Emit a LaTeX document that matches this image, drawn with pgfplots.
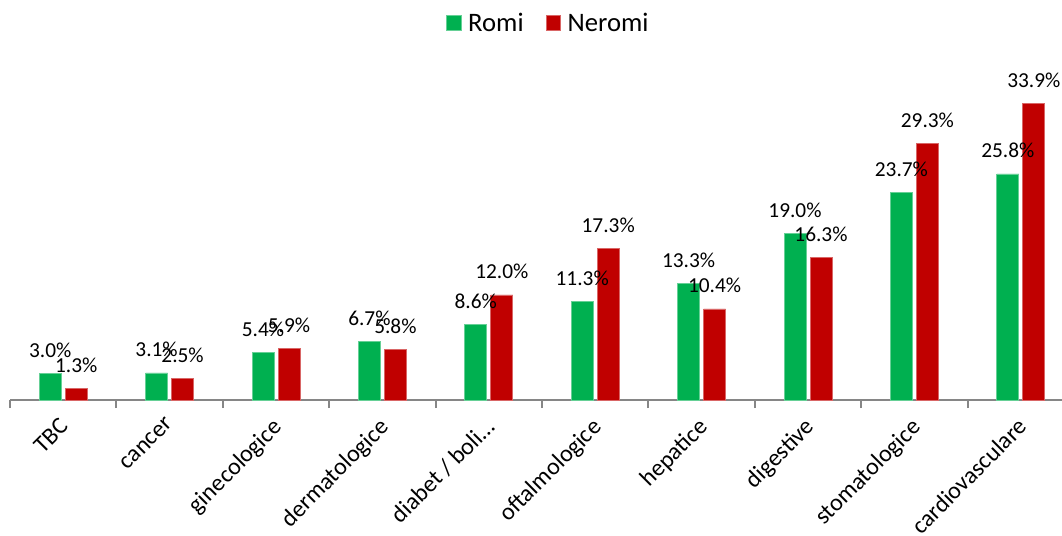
\documentclass[border=0pt]{standalone}
\usepackage{pgfplots}
\pgfplotsset{compat=1.18}
\usepackage{fontspec}
\setmainfont{Carlito}
\definecolor{romi}{HTML}{00B050}
\definecolor{neromi}{HTML}{C00000}
\definecolor{axgray}{HTML}{868686}
\begin{document}
\begin{tikzpicture}
\begin{axis}[
    name=ax,
    scale only axis,
    width=798pt, height=255pt,
    ybar=3pt, bar width=16.5pt,
    xmin=-0.5, xmax=9.5,
    ymin=0, ymax=38.81,
    axis lines*=left,
    y axis line style={draw=none},
    x axis line style={axgray, line width=1.5pt},
    ytick=\empty,
    xtick={0,...,9},
    xticklabels={TBC, cancer, ginecologice, dermatologice, diabet / boli…, oftalmologice, hepatice, digestive, stomatologice, cardiovasculare},
    major x tick style={draw=none},
    minor xtick={-0.5,0.5,...,9.5},
    minor x tick style={axgray, line width=1.5pt},
    minor tick length=6pt,
    tick align=outside,
    xticklabel style={xshift=-3.3pt, yshift=-8pt, rotate=45, anchor=north east, font=\fontsize{18pt}{21pt}\selectfont, inner sep=0pt},
    /pgf/number format/assume math mode=true,
    nodes near coords={\pgfmathprintnumber[fixed, fixed zerofill, precision=1]{\pgfplotspointmeta}\%},
    every node near coord/.append style={anchor=base, yshift=12pt, font=\fontsize{16pt}{19pt}\selectfont, text=black},
    legend columns=2,
    legend style={draw=none, at={(0.505,1.109)}, anchor=center, font=\fontsize{20pt}{23pt}\selectfont,
        nodes={inner xsep=0pt},
        /tikz/every even column/.append style={column sep=16.5pt}},
    legend image code/.code={\fill[#1] (0pt,-5.5pt) rectangle (11pt,5.5pt); \path (16pt,0pt);},
]
\addplot[fill=romi, draw=romi!60!white, line width=0.5pt] coordinates {
    (0,3.0) (1,3.1) (2,5.4) (3,6.7) (4,8.6) (5,11.3) (6,13.3) (7,19.0) (8,23.7) (9,25.8)
};
\addplot[fill=neromi, draw=neromi!60!white, line width=0.5pt] coordinates {
    (0,1.3) (1,2.5) (2,5.9) (3,5.8) (4,12.0) (5,17.3) (6,10.4) (7,16.3) (8,29.3) (9,33.9)
};
\legend{Romi, Neromi}
\end{axis}
\pgfresetboundingbox
\useasboundingbox ([shift={(-7.5pt,-101.25pt)}]ax.south west) rectangle ([shift={(789pt,300pt)}]ax.south west);
\end{tikzpicture}
\end{document}
